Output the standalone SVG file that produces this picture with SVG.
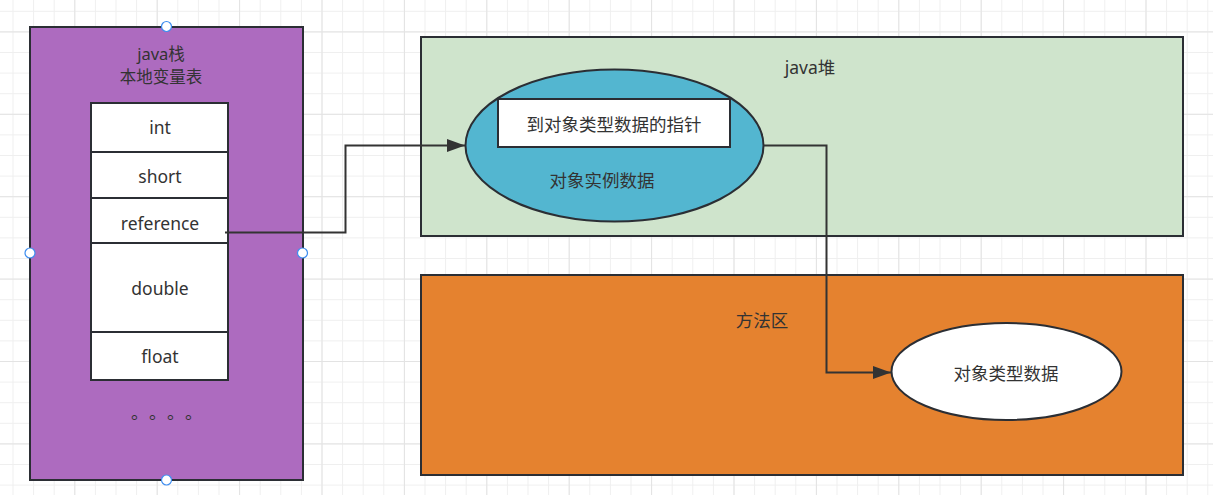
<svg xmlns="http://www.w3.org/2000/svg" width="1213" height="495" viewBox="0 0 1213 495">
<style>
text{font-family:"Noto Sans","Noto Sans CJK SC",sans-serif;font-size:17.5px;fill:#333;text-anchor:middle;dominant-baseline:central}
.cjk{font-family:"Noto Sans CJK SC",sans-serif;text-anchor:start}
.title{font-size:16.5px}
.box{stroke:#2b2e34;stroke-width:2}
.conn{fill:none;stroke:#333;stroke-width:2}
.handle{fill:#fff;stroke:#3f8ef0;stroke-width:1.2}
</style>
<defs>
<pattern id="minor" patternUnits="userSpaceOnUse" x="12.5" y="10.8" width="20.6" height="20.6">
<path d="M0 0.5H20.6M0.5 0V20.6" stroke="#efefef" stroke-width="1" fill="none"/>
</pattern>
<pattern id="major" patternUnits="userSpaceOnUse" x="74.3" y="31.4" width="82.4" height="82.4">
<path d="M0 0.5H82.4M0.5 0V82.4" stroke="#e3e3e3" stroke-width="1" fill="none"/>
</pattern>
<marker id="arrow" markerUnits="userSpaceOnUse" markerWidth="20" markerHeight="14" refX="18" refY="6.5" orient="auto">
<path d="M0 0L18 6.5L0 13Z" fill="#333"/>
</marker>
</defs>
<rect width="1213" height="495" fill="#fff"/>
<rect width="1213" height="495" fill="url(#minor)"/>
<rect width="1213" height="495" fill="url(#major)"/>

<g id="java-stack">
<rect class="box" x="30" y="27" width="273" height="453" fill="#ad6bbf"/>
<text class="title" x="161" y="53.5">java栈</text>
<text class="title" x="161" y="76.5">本地变量表</text>
<text class="cjk" x="131 149 167 185" y="411">。。。。</text>
</g>
<g id="local-vars">
<rect class="box" x="91" y="103" width="137" height="49" fill="#fff"/>
<text x="160" y="127">int</text>
<rect class="box" x="91" y="152" width="137" height="46" fill="#fff"/>
<text x="160" y="176">short</text>
<rect class="box" x="91" y="198" width="137" height="45" fill="#fff"/>
<text x="160" y="223">reference</text>
<rect class="box" x="91" y="243" width="137" height="89" fill="#fff"/>
<text x="160" y="288">double</text>
<rect class="box" x="91" y="332" width="137" height="48" fill="#fff"/>
<text x="160" y="356">float</text>
</g>
<g id="java-heap">
<rect class="box" x="421" y="37" width="762" height="199" fill="#cfe4cc"/>
<text x="810" y="67">java堆</text>
</g>
<g id="instance-data">
<ellipse class="box" cx="614.5" cy="145.5" rx="149" ry="76" fill="#53b6d0"/>
<text x="602" y="180">对象实例数据</text>
</g>
<g id="type-pointer">
<rect class="box" x="498" y="99" width="232" height="48" fill="#fff"/>
<text x="614" y="124">到对象类型数据的指针</text>
</g>
<g id="method-area">
<rect class="box" x="421" y="275" width="762" height="200" fill="#e5822f"/>
<text x="762" y="320">方法区</text>
</g>
<g id="type-data">
<ellipse class="box" cx="1006.5" cy="371.5" rx="115" ry="48.5" fill="#fff"/>
<text x="1006" y="373">对象类型数据</text>
</g>
<g id="connectors">
<path class="conn" d="M225 232.5H345.5V145.5H465" marker-end="url(#arrow)"/>
<path class="conn" d="M763.5 145.5H826.5V372.5H891" marker-end="url(#arrow)"/>
</g>
<g id="handles">
<circle class="handle" cx="166.5" cy="26.5" r="5"/>
<circle class="handle" cx="30" cy="253" r="5"/>
<circle class="handle" cx="302.5" cy="253" r="5"/>
<circle class="handle" cx="166.5" cy="480" r="5"/>
</g>
</svg>
